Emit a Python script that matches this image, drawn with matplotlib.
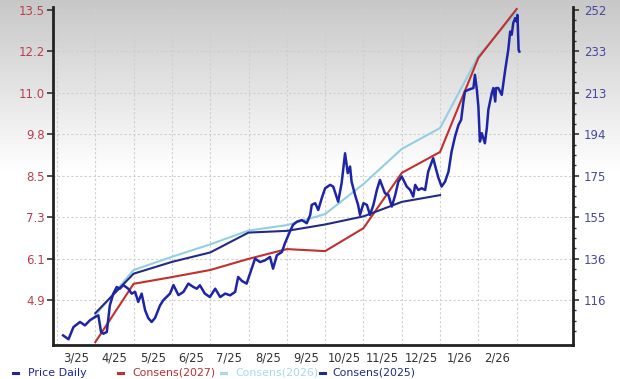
import numpy as np
import matplotlib
matplotlib.use("Agg")
from matplotlib import pyplot as plt
from matplotlib.lines import Line2D

# x positions are months since 1 Mar 2025
month_labels = ["3/25", "4/25", "5/25", "6/25", "7/25", "8/25",
                "9/25", "10/25", "11/25", "12/25", "1/26", "2/26"]

cons_x = [1, 2, 3, 4, 5, 6, 7, 8, 9, 10, 11, 12]
cons_2027 = [3.65, 5.38, 5.58, 5.79, 6.12, 6.41, 6.35, 7.03, 8.67, 9.29, 12.08, 13.53]
cons_2026 = [4.45, 5.79, 6.18, 6.55, 6.96, 7.12, 7.45, 8.34, 9.38, 10.0, 12.14, 13.44]
cons_2025 = [4.51, 5.68, 6.03, 6.31, 6.90, 6.95, 7.14, 7.38, 7.81, 8.01]

price_x = [0.16, 0.30, 0.43, 0.60, 0.73, 0.86, 0.99, 1.08, 1.15, 1.21, 1.30, 1.34,
           1.38, 1.47, 1.56, 1.64, 1.73, 1.86, 1.95, 2.04, 2.12, 2.21, 2.30, 2.38,
           2.47, 2.56, 2.69, 2.78, 2.86, 2.95, 3.04, 3.13, 3.17, 3.30, 3.43, 3.56,
           3.65, 3.73, 3.86, 3.99, 4.13, 4.26, 4.39, 4.52, 4.65, 4.73, 4.83, 4.95,
           5.08, 5.17, 5.30, 5.43, 5.56, 5.64, 5.74, 5.87, 5.95, 6.08, 6.16, 6.26,
           6.39, 6.52, 6.61, 6.65, 6.74, 6.82, 6.91, 7.00, 7.13, 7.21, 7.34, 7.43,
           7.52, 7.59, 7.65, 7.69, 7.78, 7.86, 7.91, 8.00, 8.09, 8.17, 8.26, 8.35,
           8.43, 8.56, 8.65, 8.74, 8.83, 8.91, 9.00, 9.13, 9.22, 9.30, 9.35, 9.43,
           9.52, 9.61, 9.69, 9.82, 9.90, 9.96, 10.04, 10.13, 10.22, 10.30, 10.39,
           10.48, 10.55, 10.61, 10.65, 10.74, 10.87, 10.91, 10.96, 11.00, 11.04,
           11.09, 11.17, 11.22, 11.26, 11.35, 11.39, 11.44, 11.46, 11.52, 11.61,
           11.70, 11.78, 11.83, 11.87, 11.91, 11.96, 12.00, 12.02, 12.05, 12.07]
price = [99.4, 97.6, 103.3, 105.7, 104.1, 106.5, 108.0, 108.8, 101.0, 100.2, 101.0, 107.2,
         113.5, 119.0, 122.1, 121.3, 123.0, 121.3, 119.0, 119.8, 115.1, 119.0, 111.2, 107.6,
         105.7, 107.6, 113.5, 116.0, 117.4, 119.0, 123.0, 119.8, 118.3, 119.8, 123.7, 122.1,
         121.3, 122.9, 119.0, 117.4, 121.3, 117.4, 119.0, 118.2, 119.8, 126.8, 124.9, 123.7,
         130.7, 135.4, 133.8, 134.6, 136.2, 130.7, 137.0, 138.5, 142.6, 148.1, 151.2, 152.7,
         153.5, 152.0, 155.9, 160.6, 161.4, 158.2, 163.7, 168.4, 170.0, 169.2, 162.1, 170.8,
         184.8, 175.5, 178.6, 171.5, 165.3, 160.6, 155.9, 161.4, 160.6, 155.9, 160.6, 167.6,
         172.3, 166.1, 165.3, 159.8, 165.3, 171.5, 173.9, 169.2, 167.6, 164.5, 170.0, 167.6,
         168.4, 167.6, 176.2, 182.5, 177.0, 173.1, 169.2, 171.5, 176.2, 185.6, 192.6,
         198.1, 200.5, 209.1, 213.8, 214.6, 215.4, 221.6, 214.6, 206.7, 190.3,
         194.2, 189.5, 196.6, 205.2, 213.0, 215.4, 209.1, 215.4, 215.4, 212.2,
         223.9, 233.3, 241.9, 240.4, 245.9, 248.2, 246.6, 249.7, 233.3, 232.5]

left_labels = ["4.9", "6.1", "7.3", "8.5", "9.8", "11.0", "12.2", "13.5"]
right_labels = ["116", "136", "155", "175", "194", "213", "233", "252"]

c_price = "#1d24a6"
c_27 = "#c0302c"
c_26 = "#92cfe0"
c_25 = "#232a85"

fig = plt.figure(figsize=(6.2, 3.79), dpi=100)

# grey-to-white background
bg = fig.add_axes([0, 0, 1, 1], zorder=-10)
rows = np.linspace(0, 1, 379)
shade = np.clip(0.78 + rows / 0.46 * 0.22, 0, 1)
bg.imshow(np.tile(shade[:, None], (1, 10)), cmap="gray", vmin=0, vmax=1,
          aspect="auto", extent=[0, 1, 0, 1])
bg.axis("off")

ax = fig.add_axes([0.0855, 0.0897, 0.8387, 0.8918])
ax.patch.set_visible(False)
ax2 = ax.twinx()

left_ticks = np.linspace(4.9, 13.5, 8)
step_l = left_ticks[1] - left_ticks[0]
ax.set_ylim(4.9 - 1.086 * step_l, 13.5 + 0.072 * step_l)
right_ticks = np.linspace(116, 252, 8)
step_r = right_ticks[1] - right_ticks[0]
ax2.set_ylim(116 - 1.086 * step_r, 252 + 0.072 * step_r)
ax.set_xlim(-0.104, 13.47)

ax.plot(cons_x, cons_2027, color=c_27, lw=1.5, zorder=3)
ax.plot(cons_x, cons_2026, color=c_26, lw=1.5, zorder=2)
ax.plot(cons_x[:len(cons_2025)], cons_2025, color=c_25, lw=1.5, zorder=4)
ax2.plot(price_x, price, color=c_price, lw=1.8, zorder=5)

# grid: month boundaries and left ticks
for m in range(13):
    ax.axvline(m, color="#cfcfcf", lw=0.8, ls=(0, (2, 2)), zorder=0)
for t in left_ticks:
    ax.axhline(t, color="#cfcfcf", lw=0.8, ls=(0, (2, 2)), zorder=0)

ax.set_xticks(np.arange(12) + 0.5)
ax.set_xticklabels(month_labels)
ax.tick_params(axis="x", length=0, pad=5, labelsize=8.3, labelcolor="#333333")

ax.set_yticks(left_ticks)
ax.set_yticklabels(left_labels)
ax.tick_params(axis="y", length=4, width=1.2, color="#333333", pad=2,
               labelsize=8.5, labelcolor="#b8404c")

ax2.set_yticks(right_ticks)
ax2.set_yticklabels(right_labels)
minor = [t + k * step_r / 4 for t in np.append(right_ticks[0] - step_r, right_ticks)
         for k in (1, 2, 3)]
ax2.set_yticks([v for v in minor if v < 252], minor=True)
ax2.tick_params(axis="y", which="major", length=4, width=1.2, color="#333333",
                pad=4, labelsize=8.5, labelcolor="#4848a0")
ax2.tick_params(axis="y", which="minor", length=2.5, width=1.0, color="#333333")

for a in (ax, ax2):
    for s in a.spines.values():
        s.set_visible(False)
for s in ("left", "bottom"):
    ax.spines[s].set_visible(True)
    ax.spines[s].set_linewidth(2)
    ax.spines[s].set_color("#222222")
ax2.spines["right"].set_visible(True)
ax2.spines["right"].set_linewidth(2)
ax2.spines["right"].set_color("#222222")

# legend row
legend = [("Price Daily", c_price, 13, 28), ("Consens(2027)", c_27, 118, 132),
          ("Consens(2026)", "#a9d9e8", 221, 235), ("Consens(2025)", c_25, 320, 332)]
ly = 1 - 372.5 / 379
for name, col, dx, tx in legend:
    fig.add_artist(Line2D([dx / 620, (dx + 5) / 620], [ly, ly], color=col, lw=2.2,
                          transform=fig.transFigure))
    fig.text(tx / 620, ly, name, color=col, fontsize=7.9, va="center", ha="left")

fig.savefig("out.png", dpi=100)
